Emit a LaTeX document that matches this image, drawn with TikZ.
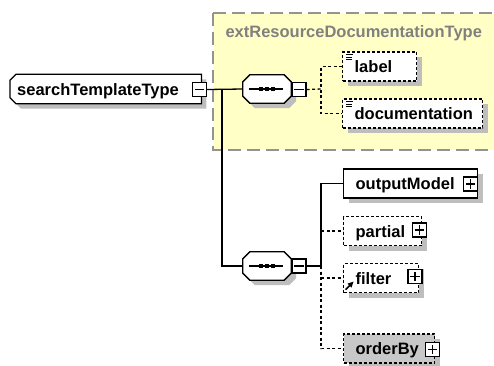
\documentclass[tikz,border=0pt]{standalone}
\usepackage{fontspec}
\setmainfont{Liberation Sans}
\usetikzlibrary{shadows,calc,backgrounds}

\definecolor{shadowgray}{RGB}{190,190,190}
\definecolor{pale}{RGB}{255,255,198}
\definecolor{titlegray}{RGB}{128,128,128}
\definecolor{fillgray}{RGB}{200,200,200}
\newcommand\xsdfont{\fontsize{16.5}{19}\selectfont\bfseries}

% root element outline: square right end, chamfered left corners
\newcommand\drawroot[1]{%
  \fill[shadowgray] ($(#1.north west)+(11,5)$) -- ($(#1.north east)+(5,5)$)
    -- ($(#1.south east)+(5,5)$) -- ($(#1.south west)+(11,5)$)
    -- ($(#1.south west)+(5,-1)$) -- ($(#1.north west)+(5,11)$) -- cycle;
  \draw[link, fill=white] ($(#1.north west)+(6,0)$) -- (#1.north east)
    -- (#1.south east) -- ($(#1.south west)+(6,0)$)
    -- ($(#1.south west)+(0,-6)$) -- ($(#1.north west)+(0,6)$) -- cycle;}

% sequence compositor: octagon with a line and three dots
\newcommand\drawcomp[1]{%
  \fill[shadowgray] ($(#1.north west)+(12,5)$) -- ($(#1.north east)+(-2,5)$)
    -- ($(#1.north east)+(5,12)$) -- ($(#1.south east)+(5,-2)$)
    -- ($(#1.south east)+(-2,5)$) -- ($(#1.south west)+(12,5)$)
    -- ($(#1.south west)+(5,-2)$) -- ($(#1.north west)+(5,12)$) -- cycle;
  \draw[link, fill=white] ($(#1.north west)+(7,0)$) -- ($(#1.north east)+(-7,0)$)
    -- ($(#1.north east)+(0,7)$) -- ($(#1.south east)+(0,-7)$)
    -- ($(#1.south east)+(-7,0)$) -- ($(#1.south west)+(7,0)$)
    -- ($(#1.south west)+(0,-7)$) -- ($(#1.north west)+(0,7)$) -- cycle;
  \draw[link] ($(#1.west)+(6,0)$) -- ($(#1.east)+(-8,0)$);
  \foreach \d in {-6,0,6} \fill ($(#1.center)+(\d-2.2,-2.2)$) rectangle +(4.4,4.4);}

\newcommand\minussign[1]{\draw[sym] ($(#1.west)+(3,0)$) -- ($(#1.east)+(-3,0)$);}
\newcommand\plussign[1]{\draw[sym] ($(#1.west)+(3,0)$) -- ($(#1.east)+(-3,0)$)
  ($(#1.north)+(0,3)$) -- ($(#1.south)+(0,-3)$);}
% documentation marker in the top left corner of an element
\newcommand\docicon[1]{\draw[line width=1pt]
  ($(#1.north west)+(4,3.5)$) -- +(7,0)
  ($(#1.north west)+(4,5.8)$) -- +(6,0)
  ($(#1.north west)+(4,8.1)$) -- +(6,0);}
% reference marker in the bottom left corner of an element
\newcommand\reficon[1]{%
  \draw[line width=1.6pt] ($(#1.south west)+(2.5,-3.5)$) -- ($(#1.south west)+(7.5,-8.5)$);
  \fill ($(#1.south west)+(10.5,-11.5)$) -- ($(#1.south west)+(4.5,-9.5)$)
    -- ($(#1.south west)+(8.5,-5.5)$) -- cycle;}

\begin{document}
\begin{tikzpicture}[x=1pt,y=-1pt,
  every node/.style={font=\xsdfont},
  link/.style={line width=1.3pt},
  optlink/.style={line width=1.3pt, dash pattern=on 3pt off 2.5pt},
  sym/.style={line width=1.2pt},
  elem/.style={draw, line width=1.3pt, fill=white, anchor=west,
    minimum height=29pt, inner xsep=12pt, inner ysep=0pt,
    text height=12pt, text depth=0pt, align=left,
    drop shadow={shadow xshift=5pt, shadow yshift=-5pt, fill=shadowgray, opacity=1}},
  opt/.style={dash pattern=on 3pt off 2pt},
  pm/.style={draw, line width=1.2pt, fill=white, minimum width=14pt,
    minimum height=14pt, inner sep=0pt},
  comp/.style={minimum width=48pt, minimum height=28pt, inner sep=0pt},
]
\useasboundingbox (0,0) rectangle (494,365);

\begin{scope}[on background layer]
  \fill[white] (0,0) rectangle (494,365);
  \fill[pale] (213,13) rectangle (494,150);
  \draw[titlegray!85, line width=1.3pt, dash pattern=on 13pt off 6pt]
    (213,13) -- (494,13);
  \draw[titlegray!85, line width=1.3pt, dash pattern=on 13pt off 6pt]
    (213,13) -- (213,150) -- (494,150);
\end{scope}

\node[anchor=base west, text=titlegray] (title) at (222,37) {extResourceDocumentationType};

% root element
\node[anchor=west, minimum width=191pt, minimum height=29pt, inner xsep=7pt,
  inner ysep=0pt, text height=12pt, text depth=0pt, align=left, text width=177pt]
  (root) at (10,89) {searchTemplateType};
\begin{scope}[on background layer]
  \drawroot{root}
\end{scope}
\node[pm] (rootm) at (199.5,89.5) {};
\minussign{rootm}

% compositors
\node[comp] (c1) at (267,89) {};
\drawcomp{c1}
\node[pm] (c1m) at (299,89.5) {};
\minussign{c1m}

\node[comp] (c2) at (267,266) {};
\drawcomp{c2}
\node[pm] (c2m) at (299,266) {};
\minussign{c2m}

% child elements of the documentation group
\node[elem, opt, text width=50pt] (lab) at (342,66.5) {label};
\docicon{lab}
\node[elem, opt, text width=116pt] (doc) at (342,113.5) {documentation};
\docicon{doc}

% child elements of the search template
\node[elem, text width=110pt] (om) at (343,183.5) {outputModel};
\node[pm] (omp) at (470.5,184) {};
\plussign{omp}

\node[elem, opt, text width=54pt] (par) at (343,231) {partial};
\node[pm] (parp) at (419.5,230) {};
\plussign{parp}

\node[elem, opt, text width=51pt] (fil) at (343,278) {filter};
\node[pm] (filp) at (415,276.5) {};
\plussign{filp}
\reficon{fil}

\node[elem, opt, fill=fillgray, text width=67pt] (ord) at (343,348.5) {orderBy};
\node[pm] (ordp) at (432.5,349.5) {};
\plussign{ordp}

% connectors
\coordinate (j1) at (222,89);
\draw[link] (rootm.east) -- (c1.west);
\draw[link] (j1) |- (c2.west);

\coordinate (d1) at (321,89);
\draw[optlink] (c1m.east) -- (d1);
\draw[optlink] (lab.west) -| (d1) |- (doc.west);

\coordinate (d2) at (321,266);
\draw[link] (c2m.east) -- (d2) |- (om.west);
\draw[optlink] (d2) |- (ord.west);
\draw[optlink] (par.west -| d2) -- (par.west);
\draw[optlink] (fil.west -| d2) -- (fil.west);
\end{tikzpicture}
\end{document}
